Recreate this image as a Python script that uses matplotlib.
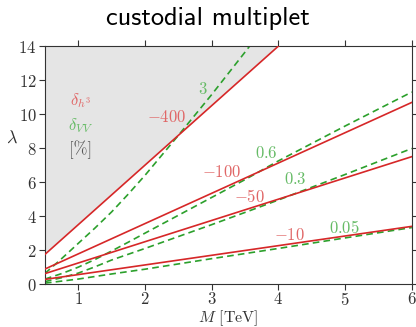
import numpy as np
import matplotlib
matplotlib.use("Agg")
import matplotlib.pyplot as plt

# ------------------------
# Data
# ------------------------
M_red = [0.5, 6.0]
red_m400 = [1.75, 21.0]
red_m100 = [0.89, 10.69]
red_m50 = [0.62, 7.50]
red_m10 = [0.28, 3.40]

M_green = [0.5, 0.75, 1.0, 1.25, 1.5, 1.75, 2.0, 2.5, 3.0, 3.5, 4.0, 5.0, 6.0]
green_3 = [0.63, 1.5, 2.4, 3.3, 4.25, 5.3, 6.4, 8.75, 11.15, 13.65, 16.2, 21.3, 26.4]
green_06 = [0.30, 0.62, 1.0, 1.45, 1.95, 2.47, 3.0, 4.05, 5.1, 6.15, 7.25, 9.3, 11.3]
green_03 = [0.15, 0.38, 0.65, 1.02, 1.42, 1.76, 2.1, 2.8, 3.5, 4.22, 4.95, 6.45, 7.98]
green_005 = [0.06, 0.18, 0.30, 0.45, 0.60, 0.74, 0.88, 1.19, 1.50, 1.80, 2.10, 2.72, 3.33]

red_labels = ["$-400$", "$-100$", "$-50$", "$-10$"]
red_label_pos = [(2.33, 9.82), (3.15, 6.6), (3.57, 5.18), (4.16, 2.88)]
green_labels = ["$3$", "$0.6$", "$0.3$", "$0.05$"]
green_label_pos = [(2.87, 11.5), (3.82, 7.69), (4.25, 6.16), (4.99, 3.33)]

RED = "#d62728"
GREEN = "#2ca02c"

plt.rcParams["mathtext.fontset"] = "cm"
plt.rcParams["font.family"] = "serif"
plt.rcParams["font.serif"] = ["cmr10"]
plt.rcParams["axes.formatter.use_mathtext"] = True

fig = plt.figure(figsize=(4.16, 3.27), dpi=100)
ax = fig.add_axes([0.108, 0.131, 0.882, 0.728])

# excluded region above the -400 line
ax.fill_between(M_red, red_m400, 14, color="#e5e5e5", lw=0, zorder=0)

for vals in [red_m400, red_m100, red_m50, red_m10]:
    ax.plot(M_red, vals, color=RED, lw=1.2, zorder=3)
for vals in [green_3, green_06, green_03, green_005]:
    ax.plot(M_green, vals, color=GREEN, lw=1.2, ls=(0, (4, 2.5)), zorder=2)

for txt, (x, y) in zip(red_labels, red_label_pos):
    ax.text(x, y, txt, color="#e06666", fontsize=12, ha="center", va="center")
for txt, (x, y) in zip(green_labels, green_label_pos):
    ax.text(x, y, txt, color="#66bb66", fontsize=12, ha="center", va="center")

ax.text(1.03, 10.8, r"$\delta_{h^3}$", color="#e06666", fontsize=12, ha="center", va="center")
ax.text(1.03, 9.35, r"$\delta_{VV}$", color="#66bb66", fontsize=12, ha="center", va="center")
ax.text(1.03, 7.9, r"[%]", color="#555555", fontsize=12, ha="center", va="center")

ax.set_xlim(0.5, 6)
ax.set_ylim(0, 14)
ax.set_xticks([1, 2, 3, 4, 5, 6])
ax.set_yticks([0, 2, 4, 6, 8, 10, 12, 14])
ax.tick_params(direction="out", top=True, right=True, labelsize=12,
               colors="#333333", length=4, pad=2)
ax.tick_params(axis="x", pad=1)
for sp in ax.spines.values():
    sp.set_color("#333333")

ax.set_xlabel(r"$M$ [TeV]", fontsize=11.5, color="#333333")
ax.xaxis.set_label_coords(0.5, -0.1)
ax.set_ylabel(r"$\lambda$", fontsize=13, rotation=0, color="#333333")
ax.yaxis.set_label_coords(-0.09, 0.58)

fig.suptitle("custodial multiplet", fontfamily="cmss10", fontsize=19, y=0.978)

fig.savefig("out.png", dpi=100)
